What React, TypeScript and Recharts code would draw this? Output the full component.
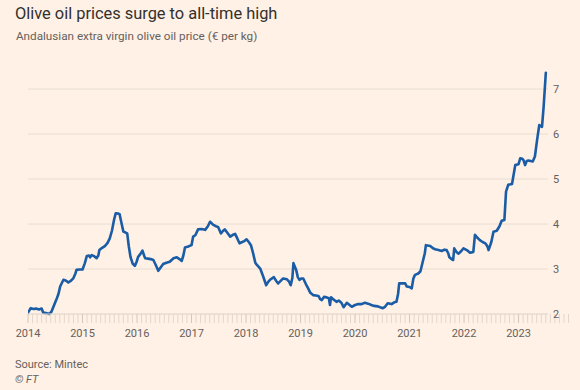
import React from 'react';
import { LineChart, Line, XAxis, YAxis, CartesianGrid } from 'recharts';

const title = 'Olive oil prices surge to all-time high';
const subtitle = 'Andalusian extra virgin olive oil price (€ per kg)';
const sourceText = 'Source: Mintec';
const creditText = '© FT';

const years = [2014, 2015, 2016, 2017, 2018, 2019, 2020, 2021, 2022, 2023];
const yTicks = [2, 3, 4, 5, 6, 7];

// decimal year of each observation
const times = [
  2014.0, 2014.05, 2014.1, 2014.15, 2014.2, 2014.25, 2014.28, 2014.33, 2014.39, 2014.43,
  2014.48, 2014.53, 2014.56, 2014.59, 2014.65, 2014.7, 2014.74, 2014.79, 2014.83, 2014.87,
  2014.89, 2014.94, 2015.0, 2015.04, 2015.08, 2015.12, 2015.14, 2015.17, 2015.22, 2015.26,
  2015.29, 2015.31, 2015.36, 2015.41, 2015.46, 2015.5, 2015.54, 2015.58, 2015.61, 2015.66,
  2015.68, 2015.71, 2015.75, 2015.79, 2015.82, 2015.85, 2015.88, 2015.92, 2015.96, 2015.99,
  2016.02, 2016.06, 2016.1, 2016.13, 2016.15, 2016.2, 2016.25, 2016.3, 2016.34, 2016.39,
  2016.42, 2016.48, 2016.54, 2016.6, 2016.67, 2016.73, 2016.78, 2016.82, 2016.85, 2016.88,
  2016.94, 2017.0, 2017.03, 2017.07, 2017.12, 2017.18, 2017.25, 2017.3, 2017.34, 2017.4,
  2017.45, 2017.49, 2017.54, 2017.58, 2017.61, 2017.66, 2017.71, 2017.76, 2017.8, 2017.84,
  2017.88, 2017.93, 2017.97, 2018.01, 2018.05, 2018.09, 2018.13, 2018.17, 2018.2, 2018.26,
  2018.31, 2018.37, 2018.41, 2018.44, 2018.51, 2018.55, 2018.59, 2018.64, 2018.68, 2018.75,
  2018.79, 2018.82, 2018.85, 2018.87, 2018.92, 2018.95, 2018.98, 2019.02, 2019.05, 2019.1,
  2019.14, 2019.18, 2019.23, 2019.28, 2019.33, 2019.36, 2019.39, 2019.43, 2019.48, 2019.52,
  2019.54, 2019.56, 2019.6, 2019.66, 2019.7, 2019.75, 2019.79, 2019.82, 2019.85, 2019.9,
  2019.94, 2020.0, 2020.06, 2020.12, 2020.18, 2020.24, 2020.3, 2020.35, 2020.42, 2020.46,
  2020.51, 2020.55, 2020.6, 2020.67, 2020.72, 2020.76, 2020.79, 2020.81, 2020.86, 2020.92,
  2020.95, 2021.0, 2021.04, 2021.07, 2021.1, 2021.16, 2021.2, 2021.25, 2021.28, 2021.3,
  2021.38, 2021.43, 2021.47, 2021.53, 2021.59, 2021.64, 2021.68, 2021.71, 2021.73, 2021.77,
  2021.8, 2021.82, 2021.86, 2021.9, 2021.95, 2021.99, 2022.05, 2022.11, 2022.17, 2022.2,
  2022.24, 2022.29, 2022.34, 2022.39, 2022.43, 2022.45, 2022.5, 2022.54, 2022.6, 2022.65,
  2022.69, 2022.74, 2022.77, 2022.81, 2022.88, 2022.94, 2023.0, 2023.03, 2023.07, 2023.09,
  2023.12, 2023.15, 2023.18, 2023.26, 2023.3, 2023.34, 2023.38, 2023.43, 2023.46, 2023.5,
];

// € per kg
const prices = [
  2.03, 2.13, 2.11, 2.12, 2.1, 2.12, 2.03, 2.02, 2.0, 2.05,
  2.2, 2.35, 2.45, 2.61, 2.76, 2.74, 2.7, 2.74, 2.79, 2.9,
  2.98, 2.99, 2.99, 3.12, 3.29, 3.3, 3.26, 3.31, 3.28, 3.24,
  3.3, 3.42, 3.47, 3.51, 3.58, 3.68, 3.85, 4.1, 4.24, 4.23,
  4.22, 4.05, 3.83, 3.81, 3.79, 3.5, 3.27, 3.12, 3.07, 3.15,
  3.27, 3.33, 3.41, 3.3, 3.24, 3.23, 3.22, 3.2, 3.1, 2.96,
  3.01, 3.11, 3.14, 3.16, 3.24, 3.26, 3.22, 3.18, 3.3, 3.48,
  3.5, 3.53, 3.72, 3.75, 3.88, 3.89, 3.87, 3.95, 4.05, 3.98,
  3.95, 3.93, 3.79, 3.85, 3.88, 3.8, 3.72, 3.76, 3.78, 3.68,
  3.57, 3.6, 3.62, 3.66, 3.6, 3.53, 3.35, 3.14, 3.09, 3.01,
  2.85, 2.64, 2.72, 2.76, 2.82, 2.74, 2.68, 2.74, 2.79, 2.77,
  2.72, 2.64, 2.8, 3.13, 2.98, 2.82, 2.76, 2.79, 2.79, 2.66,
  2.57, 2.47, 2.42, 2.41, 2.4, 2.33, 2.31, 2.38, 2.37, 2.35,
  2.2, 2.37, 2.33, 2.27, 2.3, 2.25, 2.15, 2.2, 2.25, 2.2,
  2.16, 2.2, 2.22, 2.22, 2.25, 2.23, 2.2, 2.18, 2.17, 2.15,
  2.13, 2.16, 2.24, 2.22, 2.26, 2.27, 2.45, 2.68, 2.68, 2.68,
  2.61, 2.6, 2.57, 2.79, 2.87, 2.9, 2.95, 3.2, 3.35, 3.53,
  3.51, 3.46, 3.44, 3.42, 3.4, 3.43, 3.42, 3.35, 3.26, 3.22,
  3.2, 3.46, 3.38, 3.34, 3.4, 3.46, 3.42, 3.36, 3.38, 3.76,
  3.7, 3.64, 3.6, 3.57, 3.5, 3.42, 3.6, 3.83, 3.85, 3.95,
  4.07, 4.09, 4.72, 4.87, 4.89, 5.31, 5.33, 5.46, 5.45, 5.42,
  5.31, 5.4, 5.41, 5.39, 5.5, 5.87, 6.2, 6.16, 6.61, 7.36,
];

const data = times.map((t, i) => ({ t, price: prices[i] }));

const monthTicks: number[] = [];
years.forEach((y) => {
  for (let m = 0; m < 12; m++) monthTicks.push(y + m / 12);
});

const BG = '#FFF1E5';
const GRID = '#E8DCD1';
const TEXT_GREY = '#66605C';
const FONT = 'Roboto, "Noto Sans", sans-serif';

const XTick = (props: any) => {
  const { x, y, payload } = props;
  const v = payload.value as number;
  const isYear = Math.abs(v - Math.round(v)) < 1e-6;
  return (
    <g>
      <line x1={x} x2={x} y1={y} y2={y + 9} stroke={isYear ? '#D3C6BA' : '#E3D6CA'} strokeWidth={1} />
      {isYear && (
        <text x={x} y={y + 23} textAnchor="middle" fill={TEXT_GREY} fontSize={11} fontFamily={FONT}>
          {Math.round(v)}
        </text>
      )}
    </g>
  );
};

export default function App() {
  return (
    <div style={{ position: 'absolute', left: 0, top: 0, width: 580, height: 390, background: BG, overflow: 'hidden' }}>
      <LineChart
        width={580}
        height={390}
        data={data}
        margin={{ top: 66.5, right: 0, bottom: 46, left: 28 }}
      >
        <CartesianGrid horizontal vertical={false} horizontalValues={yTicks} stroke={GRID} strokeWidth={1} />
        <XAxis
          dataKey="t"
          type="number"
          domain={[2014, 2023.54]}
          allowDataOverflow
          ticks={monthTicks}
          interval={0}
          tick={<XTick />}
          tickLine={false}
          tickSize={0}
          tickMargin={0}
          axisLine={{ stroke: GRID }}
          height={30}
        />
        <YAxis
          orientation="right"
          type="number"
          domain={[2, 7.5]}
          ticks={yTicks}
          interval={0}
          axisLine={false}
          tickLine={false}
          tickSize={0}
          tickMargin={5}
          width={32}
          tick={{ fill: TEXT_GREY, fontSize: 11, fontFamily: FONT, textAnchor: 'start' }}
        />
        <Line
          type="linear"
          dataKey="price"
          stroke="#1A5CA5"
          strokeWidth={2.6}
          dot={false}
          isAnimationActive={false}
          strokeLinejoin="round"
          strokeLinecap="round"
        />
      </LineChart>
      <svg width={580} height={390} style={{ position: 'absolute', left: 0, top: 0, pointerEvents: 'none' }}>
        <text x={15} y={18.5} fontSize={16.4} fill="#33302E" fontFamily={FONT}>{title}</text>
        <text x={16} y={40} fontSize={11.7} fill={TEXT_GREY} fontFamily={FONT}>{subtitle}</text>
        <text x={15} y={367.7} fontSize={11} fill={TEXT_GREY} fontFamily={FONT}>{sourceText}</text>
        <text x={15} y={382.7} fontSize={11} fill={TEXT_GREY} fontFamily={FONT} fontStyle="italic">{creditText}</text>
      </svg>
    </div>
  );
}
